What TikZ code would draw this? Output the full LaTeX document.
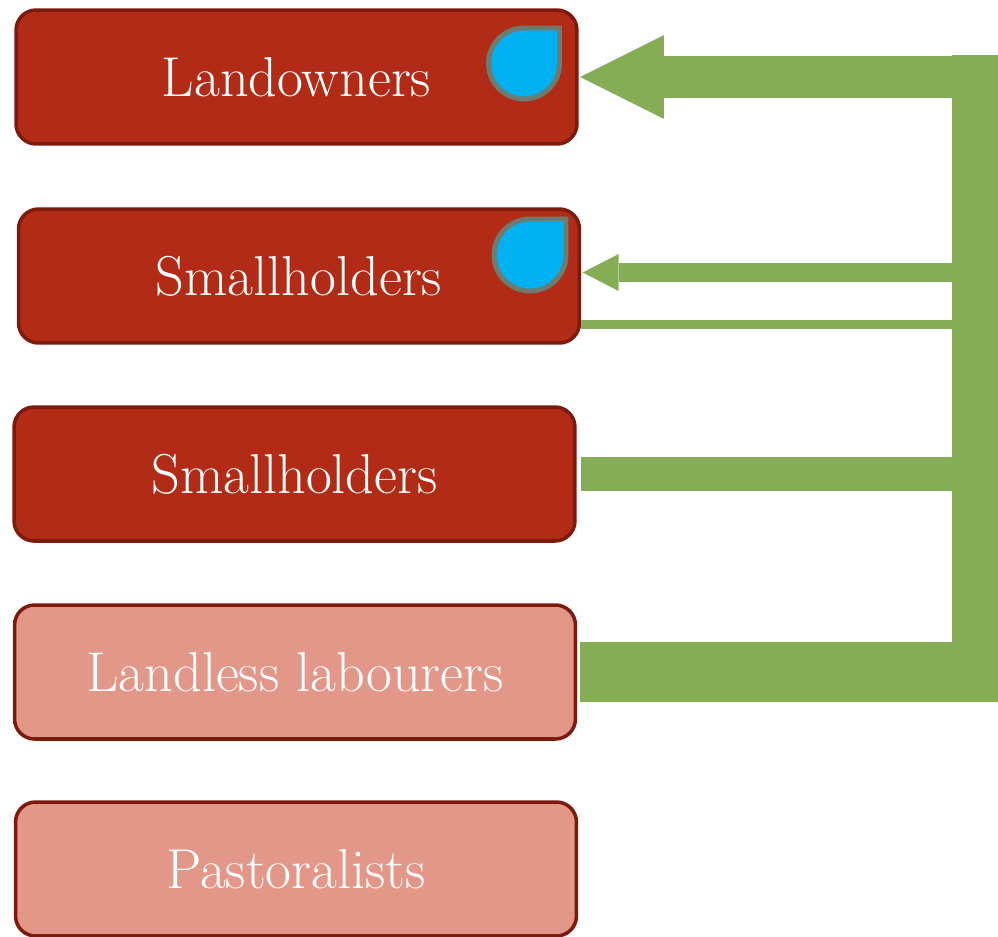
\documentclass[tikz,border=0pt]{standalone}
\usepackage{tikz, xcolor}
\usetikzlibrary{arrows.meta, calc}

\definecolor{boxline}{HTML}{7E1A0C}
\definecolor{boxdark}{HTML}{B22B16}
\definecolor{boxlight}{HTML}{E39789}
\definecolor{flowgreen}{HTML}{85AD55}
\definecolor{dropblue}{HTML}{00B0F0}
\definecolor{dropline}{HTML}{6E7B70}

\begin{document}
\begin{tikzpicture}[x=0.02cm, y=-0.02cm,
    group/.style={draw=boxline, line width=2pt, rounded corners=0.4cm, minimum width=11.22cm, minimum height=2.68cm, text=white, font=\fontsize{32}{38}\selectfont},
    rich/.style={group, fill=boxdark},
    poor/.style={group, fill=boxlight},
    flow/.style={draw=flowgreen, line cap=butt},
    drop/.style={draw=dropline, fill=dropblue, line width=2.8pt, line join=miter}]
    \useasboundingbox (0,0) rectangle (998,937);
    % the five groups
    \node (own)  at (296.5,77) [rich] {Landowners};
    \node (hold) at (299,276)  [rich] {Smallholders};
    \node (mid)  at (294.5,474) [rich] {Smallholders};
    \node (lab)  at (295,672)  [poor] {Landless labourers};
    \node (past) at (296,869)  [poor] {Pastoralists};
    % the collecting bar on the right
    \coordinate (bartop) at (998,55);
    \coordinate (barbot) at (952,702);
    \coordinate (in1) at (952,272.5);
    \coordinate (out1) at (952,324.5);
    \fill [flowgreen] (barbot) rectangle (bartop);
    \draw [flow, line width=24.4pt, -{Triangle[length=47.6pt, width=47.6pt, line width=0pt]}] (own.east -| bartop) -- ($(own.east)+(1.5,0)$);
    \draw [flow, line width=10.8pt, -{Triangle[length=20.4pt, width=21pt, line width=0pt]}] (in1) -- ($(hold.east |- in1)+(1.5,0)$);
    \draw [flow, line width=5.1pt] (hold.east |- out1) -- (out1);
    \draw [flow, line width=19.3pt] ($(mid.east)+(4,0)$) -- (mid.east -| barbot);
    \draw [flow, line width=34.6pt] ($(lab.east)+(3,0)$) -- (lab.east -| bartop);
    % drops
    \coordinate (drop1) at (524,63.5);
    \coordinate (drop2) at (530,255);
    \draw [drop] (drop1) ++(0,-35.5) -- ++(35.5,0) -- ++(0,35.5) arc [start angle=0, end angle=270, radius=35.5] -- cycle;
    \draw [drop] (drop2) ++(0,-36) -- ++(36,0) -- ++(0,36) arc [start angle=0, end angle=270, radius=36] -- cycle;
\end{tikzpicture}
\end{document}
